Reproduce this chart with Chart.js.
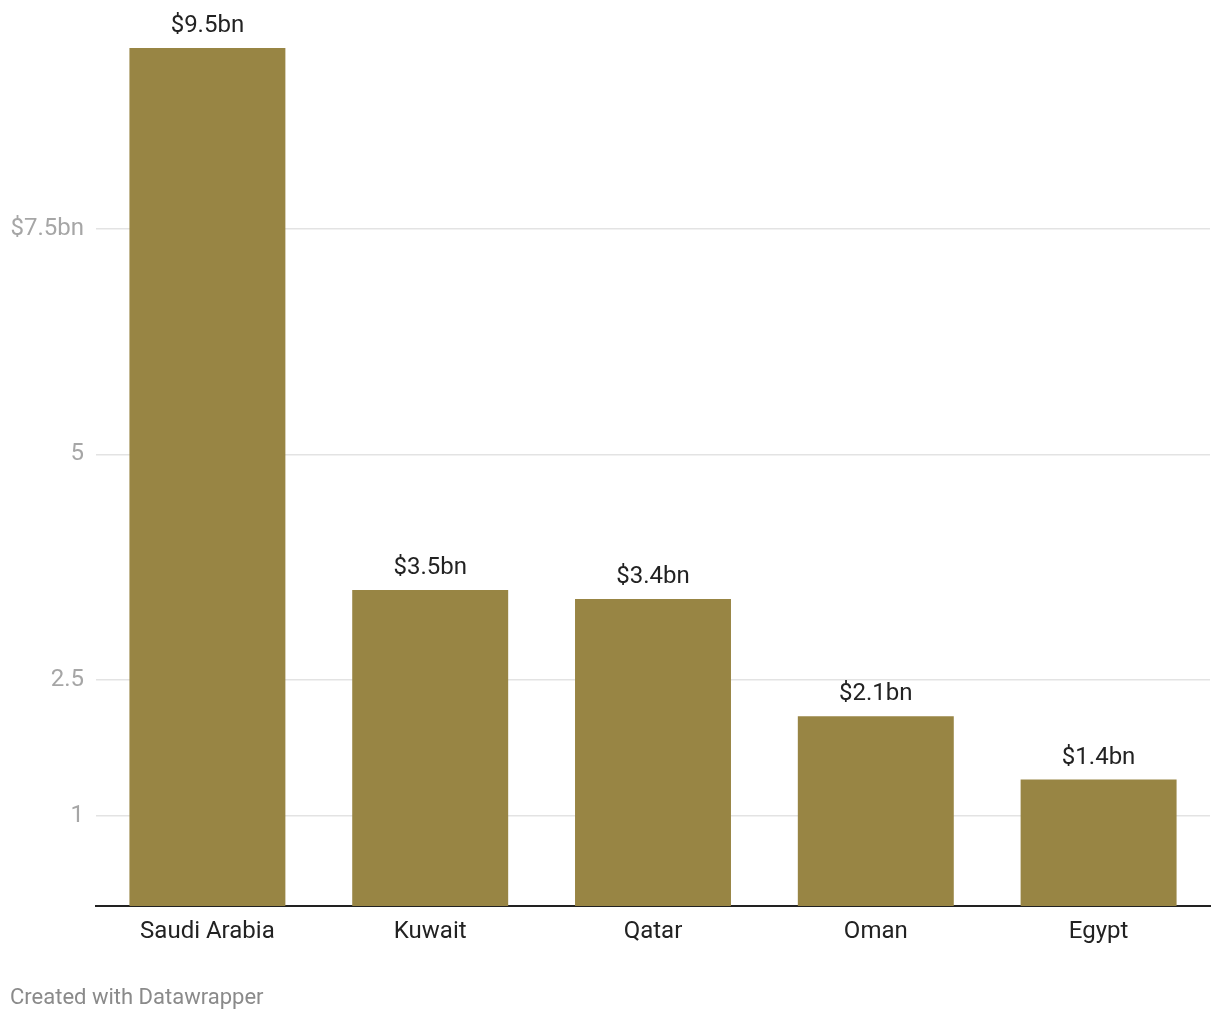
<!DOCTYPE html>
<html>
<head>
<meta charset="utf-8">
<script src="https://cdn.jsdelivr.net/npm/chart.js@4"></script>
<style>
  html, body { margin: 0; padding: 0; background: #fff; }
  #wrap { position: relative; width: 1220px; height: 1020px; }
  #footer { position: absolute; left: 10px; top: 984px; font-family: Roboto, sans-serif; font-size: 22px; line-height: 26px; color: #8a8a8a; }
</style>
</head>
<body>
<div id="wrap">
  <canvas id="c" width="1220" height="1020"></canvas>
  <div id="footer">Created with Datawrapper</div>
</div>
<script>
const categories = ["Saudi Arabia", "Kuwait", "Qatar", "Oman", "Egypt"];
const values = [9.5, 3.5, 3.4, 2.1, 1.4];
const valueLabels = ["$9.5bn", "$3.5bn", "$3.4bn", "$2.1bn", "$1.4bn"];
const yTicks = [1, 2.5, 5, 7.5];
const yTickLabels = ["1", "2.5", "5", "$7.5bn"];

const barLabels = {
  id: 'barLabels',
  afterDatasetsDraw(chart) {
    const ctx = chart.ctx;
    const meta = chart.getDatasetMeta(0);
    ctx.save();
    ctx.font = '24px Roboto, sans-serif';
    ctx.fillStyle = '#222';
    ctx.textAlign = 'center';
    ctx.textBaseline = 'middle';
    meta.data.forEach((bar, i) => {
      ctx.fillText(valueLabels[i], bar.x, bar.y - 22);
    });
    ctx.restore();
  }
};

new Chart(document.getElementById('c'), {
  type: 'bar',
  data: {
    labels: categories,
    datasets: [{
      data: values,
      backgroundColor: '#988544',
      categoryPercentage: 1.0,
      barPercentage: 0.7
    }]
  },
  options: {
    responsive: false,
    animation: false,
    layout: { padding: { top: 48, right: 10, left: 0, bottom: 0 } },
    plugins: { legend: { display: false }, tooltip: { enabled: false } },
    scales: {
      x: {
        grid: { display: false },
        border: { display: true, color: '#222', width: 2 },
        ticks: { color: '#222', font: { family: 'Roboto', size: 24 }, padding: 4, maxRotation: 0 },
        afterFit(scale) { scale.height = 114; }
      },
      y: {
        min: 0,
        max: 9.5,
        afterBuildTicks(scale) { scale.ticks = yTicks.map(v => ({ value: v })); },
        grid: { color: '#e3e3e3', lineWidth: 1.5, drawTicks: false },
        border: { display: false },
        ticks: {
          color: '#a6a6a6',
          font: { family: 'Roboto', size: 24 },
          padding: 12,
          callback(v) { const i = yTicks.indexOf(v); return i >= 0 ? yTickLabels[i] : ''; }
        },
        afterFit(scale) { scale.width = 96; }
      }
    }
  },
  plugins: [barLabels]
});
</script>
</body>
</html>
